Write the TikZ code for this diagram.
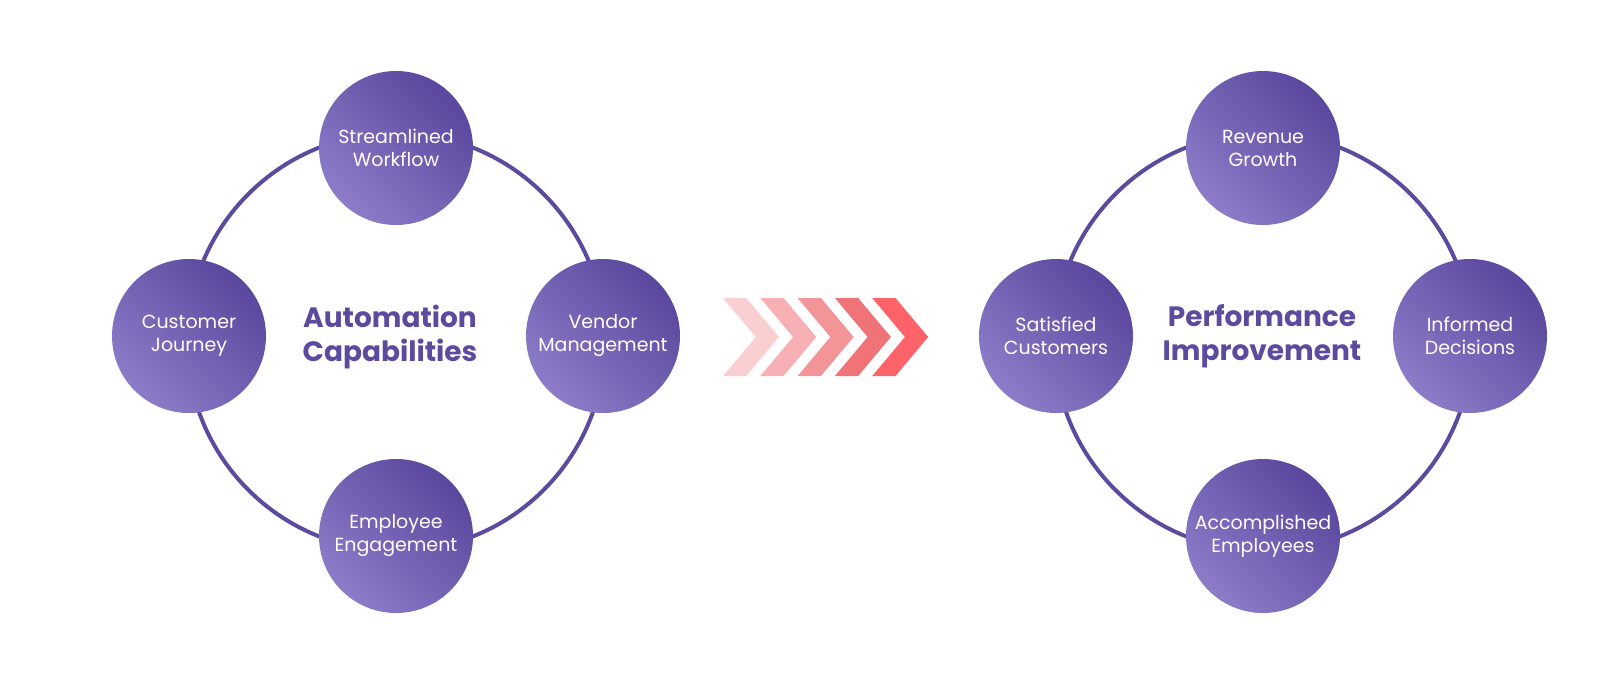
\documentclass[tikz,border=0pt]{standalone}
\usepackage{fontspec}
\setmainfont{Poppins}

\definecolor{ringpurple}{HTML}{5B4A9E}
\definecolor{bubbledark}{HTML}{5A479E}
\definecolor{bubblelight}{HTML}{8C7CC8}
\definecolor{chev0}{HTML}{FACFD2}
\definecolor{chev1}{HTML}{F7B1B4}
\definecolor{chev2}{HTML}{F39598}
\definecolor{chev3}{HTML}{F07378}
\definecolor{chev4}{HTML}{FE6369}

\begin{document}
\begin{tikzpicture}[
    x = 1pt, y = -1pt, % pixel grid, y pointing down
    line width = 4pt % ring line
    ]

    \tikzset{bubble/.style={
    circle,
    minimum size = 154pt,
    inner sep = 0pt,
    top color = bubbledark,
    bottom color = bubblelight,
    shading angle = -45,
    text = white,
    align = center,
    font = \fontsize{19}{23}\selectfont
    }}
    \tikzset{title/.style={
    text = ringpurple,
    align = center,
    font = \bfseries\fontsize{28}{34}\selectfont
    }}

    \useasboundingbox (0,0) rectangle (1624,673);

    % left ring
    \coordinate (lc) at (396,342);
    \draw[ringpurple] (lc) circle[radius=209pt];
    \node[title] (auto) at (390,337) {Automation\\Capabilities};
    \node[bubble] (flow) at ([yshift=194pt]lc) {Streamlined\\Workflow};
    \node[bubble] (journey) at ([xshift=-207pt, yshift=6pt]lc) {Customer\\Journey};
    \node[bubble] (vendor) at ([xshift=207pt, yshift=6pt]lc) {Vendor\\Management};
    \node[bubble] (engage) at ([yshift=-194pt]lc) {Employee\\Engagement};

    % chevrons
    \foreach \i in {0,...,4}
    \fill[chev\i, shift = {(37.3*\i,0)}]
    (723,298) -- (746.3,298) -- (779,337) -- (746.3,376) -- (723,376) -- (755.7,337) -- cycle;

    % right ring
    \coordinate (rc) at (1263,342);
    \draw[ringpurple] (rc) circle[radius=209pt];
    \node[title] (perf) at (1262,336) {Performance\\Improvement};
    \node[bubble] (revenue) at ([yshift=194pt]rc) {Revenue\\Growth};
    \node[bubble] (customers) at ([xshift=-207pt, yshift=6pt]rc) {Satisfied\\Customers};
    \node[bubble] (decisions) at ([xshift=207pt, yshift=6pt]rc) {Informed\\Decisions};
    \node[bubble] (employees) at ([yshift=-194pt]rc) {Accomplished\\Employees};
\end{tikzpicture}
\end{document}
